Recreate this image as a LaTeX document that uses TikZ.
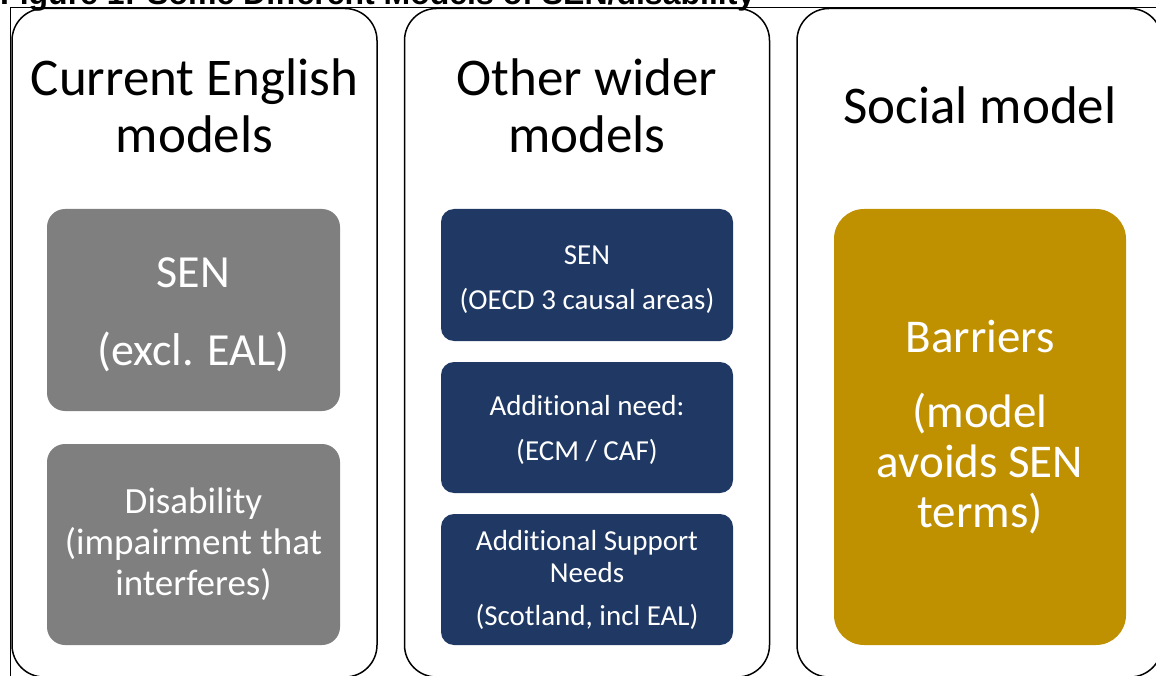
\documentclass[tikz,border=0pt]{standalone}
\usepackage{fontspec}
\setmainfont{Carlito}[Ligatures=NoCommon]
\newfontfamily\figtitlefont{Liberation Sans}
\definecolor{boxgray}{HTML}{7F7F7F}
\definecolor{boxnavy}{HTML}{1F3864}
\definecolor{boxgold}{HTML}{BF9000}
\begin{document}
\begin{tikzpicture}[x=1pt,y=-1pt,
  panel/.style={draw=black,line width=1.5pt,rounded corners=32pt,minimum width=365pt,minimum height=668.5pt,inner sep=0pt},
  ttl/.style={align=center,inner sep=0pt,font=\fontsize{53}{57}\selectfont},
  graybox/.style={fill=boxgray,text=white,align=center,inner sep=0pt,rounded corners=18pt,minimum width=293pt},
  bluebox/.style={fill=boxnavy,text=white,align=center,inner sep=0pt,rounded corners=13pt,minimum width=292pt,minimum height=131pt,font=\fontsize{29}{32}\selectfont},
  goldbox/.style={fill=boxgold,text=white,align=center,inner sep=0pt,rounded corners=30pt,minimum width=292pt,minimum height=436pt,font=\fontsize{47}{50}\selectfont}]
\useasboundingbox (0,0) rectangle (1156,676);
\begin{scope}
\clip (0,0) rectangle (1156,676);
\node[anchor=base west,inner sep=0pt,font=\figtitlefont\bfseries\fontsize{32}{36}\selectfont] (fig) at (0,4.5) {Figure 1: Some Different Models of SEN/disability};
\draw[line width=0.8pt] (1170,7.5) -- (10.5,7.5) -- (10.5,690);
\node[panel] (p1) at (194.5,342.75) {};
\node[panel] (p2) at (587,342.75) {};
\node[panel] (p3) at (979.5,342.75) {};
\node[ttl] (t1) at (194.5,106) {Current English\\models};
\node[ttl] (t2) at (587,106) {Other wider\\models};
\node[ttl] (t3) at (980,105.5) {Social model};
\node[graybox,minimum height=202pt,font=\fontsize{46}{56}\selectfont] (g1) at (193.5,310) {\rule{0pt}{40pt}SEN\\[22pt](excl. EAL)};
\node[graybox,minimum height=201pt,font=\fontsize{37}{41}\selectfont] (g2) at (193.5,544.5) {Disability\\(impairment that\\interferes)};
\node[bluebox,minimum height=132pt] (b1) at (587,275) {\rule{0pt}{28pt}SEN\\[13pt](OECD 3 causal areas)};
\node[bluebox] (b2) at (587,427.5) {\rule{0pt}{26pt}Additional need:\\[13pt](ECM / CAF)};
\node[bluebox] (b3) at (587,579.5) {Additional Support\\Needs\\[11pt](Scotland, incl EAL)};
\node[goldbox] (gd) at (980,427) {Barriers\\[25pt](model\\avoids SEN\\terms)};
\end{scope}
\end{tikzpicture}
\end{document}
